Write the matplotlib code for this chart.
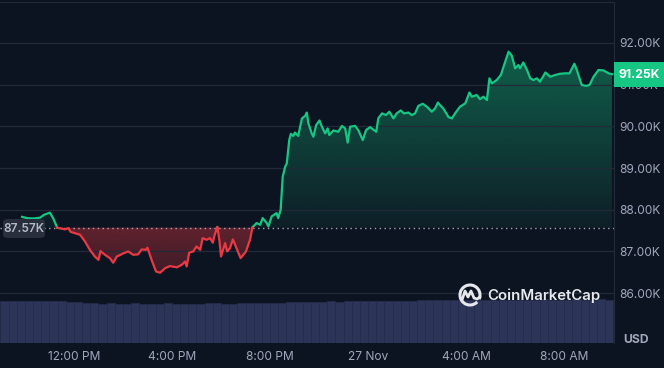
import numpy as np
import matplotlib
matplotlib.use("Agg")
import matplotlib.pyplot as plt
from matplotlib.patches import Rectangle, FancyBboxPatch, Arc
from matplotlib.lines import Line2D

plt.rcParams['font.family'] = ['Inter', 'DejaVu Sans']

# minutes after 9:00 AM (26 Nov) and BTC price in thousands USD
minutes = [53, 65, 80, 97, 107, 121, 129, 139, 158, 166, 172, 195, 207, 219, 231, 240, 245, 256,
           268, 276, 285, 294, 302, 313, 325, 337, 346, 356, 360, 370, 381, 391, 403, 415, 432, 444,
           452, 456, 462, 472, 480, 489, 495, 505, 513, 520, 523, 531, 536, 540, 550, 555, 562, 569,
           578, 588, 601, 611, 617, 627, 636, 642, 652, 656, 664, 676, 680, 686, 691, 697, 701, 707,
           711, 717, 721, 729, 738, 746, 750, 754, 762, 766, 773, 781, 787, 795, 801, 805, 815, 827,
           836, 844, 850, 856, 868, 876, 887, 895, 905, 920, 925, 934, 944, 952, 962, 970, 980, 988,
           999, 1007, 1015, 1023, 1034, 1044, 1056, 1064, 1071, 1076, 1084, 1097, 1105, 1113, 1125,
           1138, 1148, 1154, 1166, 1174, 1182, 1191, 1197, 1203, 1215, 1225, 1233, 1244, 1252, 1260,
           1268, 1272, 1280, 1289, 1297, 1305, 1313, 1321, 1334, 1346, 1358, 1370, 1383, 1393, 1405,
           1411, 1423, 1434, 1442, 1452, 1464, 1476, 1489, 1497]
prices = [87.83, 87.80, 87.79, 87.81, 87.88, 87.93, 87.80, 87.57, 87.53, 87.56, 87.47, 87.40, 87.24,
          87.04, 86.88, 86.80, 87.01, 86.92, 86.84, 86.73, 86.88, 86.92, 86.96, 87.00, 86.92, 86.93,
          87.05, 87.04, 87.09, 86.80, 86.52, 86.49, 86.60, 86.65, 86.62, 86.68, 86.76, 86.64, 86.97,
          87.00, 87.12, 87.04, 87.32, 87.28, 87.32, 87.21, 87.35, 87.59, 87.28, 86.88, 87.20, 87.00,
          87.08, 87.29, 87.08, 86.84, 87.00, 87.28, 87.58, 87.68, 87.64, 87.80, 87.68, 87.60, 87.84,
          87.92, 87.80, 88.00, 88.79, 89.03, 89.11, 89.67, 89.82, 89.77, 89.85, 89.77, 90.19, 90.25,
          90.33, 90.07, 89.83, 89.75, 90.03, 90.14, 89.99, 89.83, 89.95, 89.79, 89.90, 89.87, 90.01,
          89.95, 89.61, 89.99, 90.01, 89.91, 89.67, 89.91, 89.98, 89.87, 90.19, 90.31, 90.27, 90.35,
          90.19, 90.31, 90.38, 90.31, 90.33, 90.27, 90.31, 90.49, 90.54, 90.47, 90.35, 90.43, 90.57,
          90.51, 90.43, 90.22, 90.19, 90.31, 90.47, 90.55, 90.81, 90.71, 90.75, 90.65, 90.71, 90.63,
          91.15, 91.03, 91.11, 91.23, 91.47, 91.79, 91.69, 91.39, 91.47, 91.39, 91.53, 91.35, 91.15,
          91.11, 91.15, 91.07, 91.29, 91.19, 91.23, 91.26, 91.27, 91.27, 91.50, 91.35, 90.99, 90.97,
          90.99, 91.19, 91.35, 91.34, 91.27, 91.25]
baseline = 87.57
last_price = 91.25

# volume, one bar per 20 minutes (arbitrary units)
volume = [4.23, 4.24, 4.22, 4.23, 4.21, 4.18, 4.17, 4.16, 4.15, 4.12, 4.05, 3.96, 3.95, 3.97,
          3.94, 3.95, 3.96, 3.93, 3.95, 3.94, 3.96, 3.95, 3.93, 3.94, 3.95, 3.97, 3.96, 3.94, 3.95,
          3.96, 3.97, 3.98, 3.99, 4.02, 4.05, 4.08, 4.12, 4.14, 4.13, 4.15, 4.16, 4.15, 4.17, 4.18,
          4.16, 4.18, 4.20, 4.19, 4.21, 4.22, 4.24, 4.26, 4.27, 4.28, 4.30, 4.31, 4.30, 4.32, 4.33,
          4.32, 4.34, 4.33, 4.35, 4.34, 4.33, 4.35, 4.36, 4.34, 4.33, 4.35, 4.36, 4.35, 4.34, 4.36,
          4.35]
vol_minutes = np.arange(len(volume)) * 20

tick_pos = [180, 420, 660, 900, 1140, 1380]
tick_lab = ["12:00 PM", "4:00 PM", "8:00 PM", "27 Nov", "4:00 AM", "8:00 AM"]
ytick_pos = [86, 87, 88, 89, 90, 91, 92]
ytick_lab = ["86.00K", "87.00K", "88.00K", "89.00K", "90.00K", "91.00K", "92.00K"]

bg = "#0d1421"
green = "#16c784"
red = "#ea3943"
txt = "#a1a7bb"
W, H = 664, 368

def fx(px):
    return px / W

def fy(py):
    return 1 - py / H

fig = plt.figure(figsize=(6.64, 3.68), dpi=100, facecolor=bg)
pos = [0, fy(343), fx(614), fy(2) - fy(343)]

# volume axes behind
axv = fig.add_axes(pos, zorder=0)
axv.set_facecolor(bg)
axv.bar(vol_minutes, volume, width=20, align="edge", color="#2c3458",
        edgecolor="#262d4c", linewidth=0.5)
axv.set_xlim(-1, 1502)
axv.set_ylim(0, 34.1)
axv.axis("off")

ax = fig.add_axes(pos, zorder=1)
ax.patch.set_visible(False)
ax.set_xlim(-1, 1502)
ax.set_ylim(84.806, 92.98)

t = np.array(minutes, dtype=float)
p = np.array(prices)

# add crossing points so the colour switches exactly at the baseline
tt, pp = [t[0]], [p[0]]
for i in range(1, len(t)):
    a, b = p[i - 1] - baseline, p[i] - baseline
    if a * b < 0:
        f = a / (a - b)
        tt.append(t[i - 1] + f * (t[i] - t[i - 1]))
        pp.append(baseline)
    tt.append(t[i])
    pp.append(p[i])
tt = np.array(tt)
pp = np.array(pp)

up = np.maximum(pp, baseline)
dn = np.minimum(pp, baseline)

# gradient fills clipped to the area between line and baseline
gpoly = ax.fill_between(tt, baseline, up, color="none", linewidth=0)
rpoly = ax.fill_between(tt, dn, baseline, color="none", linewidth=0)

g = np.zeros((256, 1, 4))
g[:, 0, :3] = matplotlib.colors.to_rgb(green)
g[:, 0, 3] = np.linspace(0.42, 0.06, 256)
im = ax.imshow(g, extent=[tt[0], tt[-1], baseline, 91.8], aspect="auto", origin="upper",
               zorder=1, interpolation="bilinear")
im.set_clip_path(gpoly.get_paths()[0], transform=ax.transData)

r = np.zeros((256, 1, 4))
r[:, 0, :3] = matplotlib.colors.to_rgb(red)
r[:, 0, 3] = np.linspace(0.22, 0.38, 256)
im2 = ax.imshow(r, extent=[tt[0], tt[-1], 86.45, baseline], aspect="auto", origin="lower",
                zorder=1, interpolation="bilinear")
im2.set_clip_path(rpoly.get_paths()[0], transform=ax.transData)

ax.plot(tt, np.where(pp >= baseline, pp, np.nan), color=green, lw=1.6, zorder=3,
        solid_joinstyle="round")
ax.plot(tt, np.where(pp <= baseline, pp, np.nan), color=red, lw=1.6, zorder=3,
        solid_joinstyle="round")

ax.axhline(baseline, color="#c3c8d4", lw=1, ls=(0, (1, 2.5)), alpha=0.8, zorder=2)

ax.set_yticks(ytick_pos)
ax.set_yticklabels(ytick_lab)
ax.yaxis.tick_right()
ax.set_xticks(tick_pos)
ax.set_xticklabels(tick_lab)
ax.tick_params(axis="y", length=0, pad=3.5, labelsize=8.6, labelcolor=txt)
ax.tick_params(axis="x", length=0, pad=6, labelsize=8.6, labelcolor=txt)
ax.grid(axis="y", color="#222a39", lw=0.9, zorder=0)
for s in ["left", "bottom"]:
    ax.spines[s].set_visible(False)
ax.spines["top"].set_color("#222a39")
ax.spines["right"].set_color("#222a39")

# labels on the price scale
fig.add_artist(Rectangle((fx(614), fy(87)), fx(50), fy(62) - fy(87), transform=fig.transFigure,
                         facecolor=green, edgecolor="none", zorder=5))
fig.text(fx(639), fy(74.5), f"{last_price:.2f}K", color="white", fontsize=8.8,
         fontweight="bold", ha="center", va="center", zorder=6)

fig.add_artist(FancyBboxPatch((fx(3), fy(238)), fx(42), fy(219) - fy(238),
                              boxstyle="round,pad=0,rounding_size=0.008",
                              transform=fig.transFigure, facecolor="#2a303e",
                              edgecolor="none", alpha=0.95, zorder=5))
fig.text(fx(24), fy(228.5), f"{baseline:.2f}K", color="#b4bac8", fontsize=8.5,
         fontweight="semibold", ha="center", va="center", zorder=6)

fig.text(fx(636), fy(340), "USD", color=txt, fontsize=8.8, fontweight="bold",
         ha="center", va="center")

# watermark
wm = "#e6e8ee"
fig.add_artist(Arc((fx(470), fy(295)), fx(20), fy(0) - fy(20), theta1=-40, theta2=300,
                   transform=fig.transFigure, color=wm, lw=2.2, zorder=4))
mx = [462, 465, 468, 471, 474, 477, 480]
my = [300, 291, 297, 291, 298, 299, 297]
fig.add_artist(Line2D([fx(v) for v in mx], [fy(v) for v in my], transform=fig.transFigure,
                      color=wm, lw=2, solid_capstyle="round", solid_joinstyle="round", zorder=4))
fig.text(fx(487), fy(296), "CoinMarketCap", color=wm, fontsize=10.8, fontweight="semibold",
         ha="left", va="center", zorder=4)

fig.savefig("out.png", dpi=100, facecolor=bg)
